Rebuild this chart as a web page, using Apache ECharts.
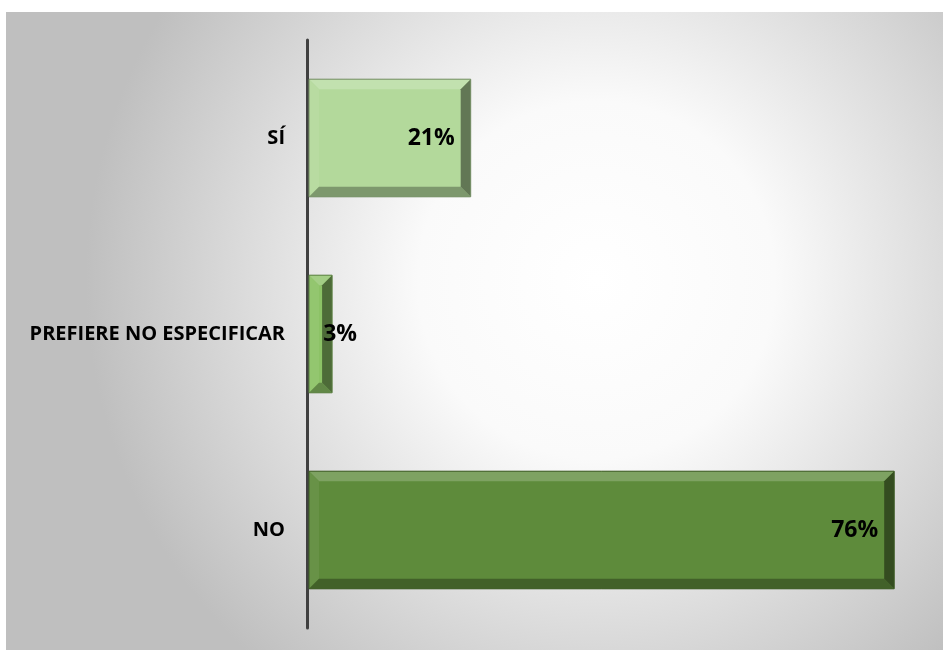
<!DOCTYPE html>
<html>
<head>
<meta charset="utf-8">
<script src="https://cdn.jsdelivr.net/npm/echarts@6/dist/echarts.min.js"></script>
<style>
html,body{margin:0;padding:0;background:#fff;}
#chart{width:943px;height:650px;}
</style>
</head>
<body>
<div id="chart"></div>
<script>
const categories = ['NO', 'PREFIERE NO ESPECIFICAR', 'SÍ'];
const values = [76, 3, 21];
const valueLabels = ['76%', '3%', '21%'];
const barColors = ['#5e8b3b', '#8cc266', '#b3d99b'];

function shade(hex, f) {
  const n = parseInt(hex.slice(1), 16);
  let r = (n >> 16) & 255, g = (n >> 8) & 255, b = n & 255;
  const m = v => f >= 0 ? Math.round(v + (255 - v) * f) : Math.round(v * (1 + f));
  return 'rgb(' + m(r) + ',' + m(g) + ',' + m(b) + ')';
}

const chart = echarts.init(document.getElementById('chart'));
const option = {
  animation: false,
  graphic: [{
    type: 'rect', z: -10, silent: true,
    shape: { x: 6, y: 12, width: 937, height: 638 },
    style: {
      fill: {
        type: 'radial', x: 0.63, y: 0.42, r: 0.8,
        colorStops: [
          { offset: 0, color: '#ffffff' },
          { offset: 0.35, color: '#fafafa' },
          { offset: 1, color: '#bfbfbf' }
        ]
      }
    }
  }],
  grid: { left: 307, right: 20, top: 40, bottom: 22, containLabel: false },
  xAxis: {
    type: 'value', min: 0, max: 80, show: false
  },
  yAxis: {
    type: 'category', data: categories,
    axisLine: { show: true, lineStyle: { color: '#404040', width: 3 } },
    axisTick: { show: false },
    axisLabel: {
      margin: 22, color: '#000', fontWeight: 'bold', fontSize: 20,
      fontFamily: 'Open Sans'
    }
  },
  series: [{
    type: 'custom',
    data: values.map((v, i) => [v, i]),
    encode: { x: 0, y: 1 },
    renderItem: function (params, api) {
      const i = api.value(1);
      const s = api.coord([0, i]);
      const e = api.coord([api.value(0), i]);
      const h = api.size([0, 1])[1] * 0.6;
      const x0 = s[0] + 2, x1 = e[0] + 2;
      const y0 = s[1] - h / 2, y1 = s[1] + h / 2;
      const b = Math.min(10, (x1 - x0) / 2);
      const c = barColors[i];
      return {
        type: 'group',
        children: [
          { type: 'rect', shape: { x: x0, y: y0, width: x1 - x0, height: h }, style: { fill: c } },
          { type: 'polygon', shape: { points: [[x0, y0], [x1, y0], [x1 - b, y0 + b], [x0 + b, y0 + b]] }, style: { fill: shade(c, 0.2) } },
          { type: 'polygon', shape: { points: [[x0, y0], [x0 + b, y0 + b], [x0 + b, y1 - b], [x0, y1]] }, style: { fill: shade(c, 0.06) } },
          { type: 'polygon', shape: { points: [[x0, y1], [x0 + b, y1 - b], [x1 - b, y1 - b], [x1, y1]] }, style: { fill: shade(c, -0.3) } },
          { type: 'polygon', shape: { points: [[x1, y0], [x1, y1], [x1 - b, y1 - b], [x1 - b, y0 + b]] }, style: { fill: shade(c, -0.45) } },
          { type: 'rect', shape: { x: x0, y: y0, width: x1 - x0, height: h }, style: { fill: 'none', stroke: shade(c, -0.35), lineWidth: 1 } },
          { type: 'text', style: {
              text: valueLabels[i], x: Math.max(x1 - 16, x0 + 48), y: s[1],
              align: 'right', verticalAlign: 'middle',
              fill: '#000', font: 'bold 23px "Open Sans"'
            } }
        ]
      };
    }
  }]
};
chart.setOption(option);
</script>
</body>
</html>
